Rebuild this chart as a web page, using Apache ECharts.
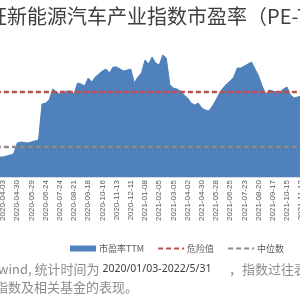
<!DOCTYPE html>
<html>
<head>
<meta charset="utf-8">
<script src="https://cdn.jsdelivr.net/npm/echarts@6/dist/echarts.min.js"></script>
<style>
  html, body { margin: 0; padding: 0; background: #fff; }
  #myChart { width: 300px; height: 300px; }
</style>
</head>
<body>
<div id="myChart"></div>
<script>
// 周度日期
var dates = [
  '2020-03-20', '2020-03-27', '2020-04-03', '2020-04-10', '2020-04-17', '2020-04-24', '2020-04-30', '2020-05-08',
  '2020-05-15', '2020-05-22', '2020-05-29', '2020-06-05', '2020-06-12', '2020-06-19', '2020-06-24', '2020-07-03',
  '2020-07-10', '2020-07-17', '2020-07-24', '2020-07-31', '2020-08-07', '2020-08-14', '2020-08-21', '2020-08-28',
  '2020-09-04', '2020-09-11', '2020-09-18', '2020-09-25', '2020-09-30', '2020-10-09', '2020-10-16', '2020-10-23',
  '2020-10-30', '2020-11-06', '2020-11-13', '2020-11-20', '2020-11-27', '2020-12-04', '2020-12-11', '2020-12-18',
  '2020-12-25', '2020-12-31', '2021-01-08', '2021-01-15', '2021-01-22', '2021-01-29', '2021-02-05', '2021-02-10',
  '2021-02-19', '2021-02-26', '2021-03-05', '2021-03-12', '2021-03-19', '2021-03-26', '2021-04-02', '2021-04-09',
  '2021-04-16', '2021-04-23', '2021-04-30', '2021-05-07', '2021-05-14', '2021-05-21', '2021-05-28', '2021-06-04',
  '2021-06-11', '2021-06-18', '2021-06-25', '2021-07-02', '2021-07-09', '2021-07-16', '2021-07-23', '2021-07-30',
  '2021-08-06', '2021-08-13', '2021-08-20', '2021-08-27', '2021-09-03', '2021-09-10', '2021-09-17', '2021-09-24',
  '2021-09-30', '2021-10-08', '2021-10-15', '2021-10-22', '2021-10-29', '2021-11-05', '2021-11-12', '2021-11-19'
];

// 市盈率TTM
var peTTM = [
  20, 20, 20, 21, 22, 23, 34, 35,
  34.5, 34, 35, 36, 37, 73, 74, 77,
  88, 85, 83, 84, 86, 86, 83, 94,
  93, 91, 99, 95, 100, 103, 106, 108,
  104, 110, 110, 108, 106, 107, 108, 94,
  100, 104, 117, 113, 120, 114, 112, 122,
  119, 92, 89, 88, 86, 82, 79, 74,
  72, 74, 69, 67, 66, 71, 77, 84,
  89, 93, 96, 100, 109, 109, 111, 113,
  115, 108, 101, 91, 83, 87, 86, 85,
  85, 88, 90, 82, 79, 80, 81, 82
];

var dangerValue = 85;  // 危险值
var medianValue = 30;  // 中位数

var seriesNames = ['市盈率TTM', '危险值', '中位数'];

var chart = echarts.init(document.getElementById('myChart'));
chart.setOption({
  backgroundColor: '#fff',
  animation: false,
  title: {
    text: '中证新能源汽车产业指数市盈率（PE-TTM）',
    left: -33,
    top: 6,
    padding: 0,
    textStyle: {
      fontSize: 20,
      fontWeight: 'normal',
      color: '#404040',
      fontFamily: 'Noto Sans CJK SC'
    }
  },
  legend: {
    left: 65,
    top: 239,
    itemWidth: 26,
    itemHeight: 6,
    itemGap: 13,
    textStyle: { fontSize: 9, color: '#595959', fontFamily: 'Noto Sans CJK SC', padding: [0, 0, 0, -2] },
    data: [
      { name: seriesNames[0], icon: 'rect' },
      // 虚线图例不要中间的圆点
      { name: seriesNames[1], itemStyle: { opacity: 0 } },
      { name: seriesNames[2], itemStyle: { opacity: 0 } }
    ]
  },
  grid: {
    left: -4.1,
    right: -4.75,
    top: 37,
    bottom: 123,
    outerBoundsMode: 'none'
  },
  xAxis: {
    type: 'category',
    boundaryGap: false,
    data: dates,
    axisLine: { show: true, lineStyle: { color: '#d9d9d9' } },
    axisTick: { show: false },
    axisLabel: {
      rotate: 90,
      fontSize: 8,
      color: '#595959',
      margin: 3,
      fontFamily: 'Liberation Sans',
      interval: function (index) { return (index - 2) % 4 === 0; }
    }
  },
  yAxis: {
    type: 'value',
    show: false,
    min: 0,
    max: 140,
    splitLine: { show: false }
  },
  series: [
    {
      name: seriesNames[0],
      type: 'line',
      data: peTTM,
      symbol: 'none',
      color: '#4f81bd',
      lineStyle: { width: 1, color: '#4f81bd' },
      areaStyle: { color: '#4f81bd', opacity: 1 },
      z: 1
    },
    {
      name: seriesNames[1],
      type: 'line',
      data: dates.map(function () { return dangerValue; }),
      symbol: 'none',
      color: '#c0504d',
      lineStyle: { width: 2.5, type: [5, 3], color: '#c0504d' },
      z: 3
    },
    {
      name: seriesNames[2],
      type: 'line',
      data: dates.map(function () { return medianValue; }),
      symbol: 'none',
      color: '#8c8c8c',
      lineStyle: { width: 2.5, type: [5, 3], color: '#8c8c8c' },
      z: 3
    }
  ],
  graphic: [
    {
      type: 'text',
      left: -2,
      top: 263,
      style: {
        text: '{a|wind, 统计时间为 }{b|2020/01/03-2022/5/31}{a|      ，指数过往表现不预示未来表现}',
        rich: {
          a: { fontSize: 13, fill: '#8c8c8c', fontFamily: 'Noto Sans CJK SC' },
          b: { fontSize: 10.5, fill: '#404040', fontFamily: 'Noto Sans' }
        }
      }
    },
    {
      type: 'text',
      left: -5,
      top: 281,
      style: {
        text: '指数及相关基金的表现。',
        fontSize: 13,
        fill: '#8c8c8c',
        fontFamily: 'Noto Sans CJK SC'
      }
    }
  ]
});
</script>
</body>
</html>
